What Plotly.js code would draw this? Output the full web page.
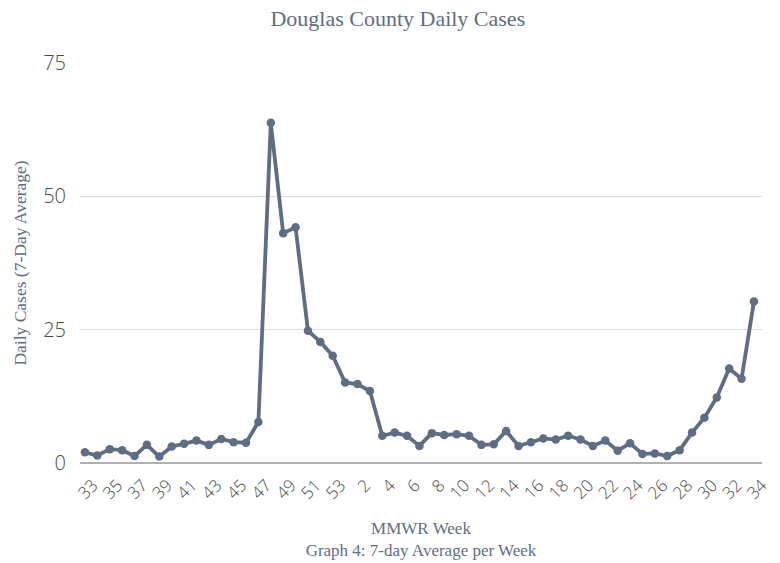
<!DOCTYPE html>
<html>
<head>
<meta charset="utf-8">
<script src="https://cdn.plot.ly/plotly-3.0.1.min.js"></script>
<style>html,body{margin:0;padding:0;background:#fff}#chart{width:780px;height:563px}</style>
</head>
<body>
<div id="chart"></div>
<script>
// MMWR weeks: 33..53 (2020), then 1..34 (2021)
const weeks = [33,34,35,36,37,38,39,40,41,42,43,44,45,46,47,48,49,50,51,52,53,
  1,2,3,4,5,6,7,8,9,10,11,12,13,14,15,16,17,18,19,20,21,22,23,24,25,26,27,28,29,30,31,32,33,34];
const dailyCases = [2.0,1.4,2.6,2.4,1.3,3.4,1.2,3.1,3.6,4.2,3.4,4.5,3.9,3.8,7.7,63.8,43.1,44.2,24.8,22.7,20.1,
  15.1,14.8,13.5,5.1,5.7,5.1,3.2,5.6,5.25,5.4,5.1,3.4,3.5,6.0,3.2,3.9,4.6,4.4,5.1,4.4,3.2,4.2,2.3,3.7,1.7,1.8,1.3,2.4,5.7,8.5,12.3,17.7,15.8,30.3];
const yTicks = [0,25,50,75];

const xIdx = weeks.map((w,i)=>i);
const tickVals = xIdx.filter(i=>i%2===0);
const tickText = tickVals.map(i=>String(weeks[i]));

const slate = '#5e6d86';
const serif = '"Liberation Serif", "Times New Roman", serif';

Plotly.newPlot('chart', [{
  x: xIdx, y: dailyCases, type:'scatter', mode:'lines+markers',
  line:{color:slate, width:3.8}, marker:{color:slate, size:8.5},
  hoverinfo:'y'
}], {
  width:780, height:563,
  margin:{l:80, r:18, t:63, b:100},
  paper_bgcolor:'#fff', plot_bgcolor:'#fff',
  showlegend:false,
  title:{text:'Douglas County Daily Cases', font:{family:serif, size:22, color:slate}, x:0.51, xanchor:'center', y:0.968, yanchor:'middle'},
  xaxis:{
    range:[-0.4, 54.65], tickvals:tickVals, ticktext:tickText, tickangle:-45,
    showgrid:false, zeroline:false, showline:false, ticks:'',
    ticklabelstandoff:8, ticklabelshift:8,
    tickfont:{family:'"Open Sans", sans-serif', size:17, color:'#4a4a4a', weight:300},
    title:{text:'MMWR Week<br>Graph 4: 7-day Average per Week', font:{family:serif, size:17, color:slate}, standoff:19}
  },
  yaxis:{
    range:[0,75], tickvals:yTicks, showgrid:true, gridcolor:'#dcdcdc', gridwidth:1,
    zeroline:true, zerolinecolor:'#b0b0b0', zerolinewidth:2, ticks:'',
    ticklabelstandoff:13,
    tickfont:{family:'"Open Sans", sans-serif', size:20, color:'#4a4a4a', weight:300},
    title:{text:'Daily Cases (7-Day Average)', font:{family:serif, size:17.5, color:slate}, standoff:12}
  }
}, {displayModeBar:false, staticPlot:true});
</script>
</body>
</html>
